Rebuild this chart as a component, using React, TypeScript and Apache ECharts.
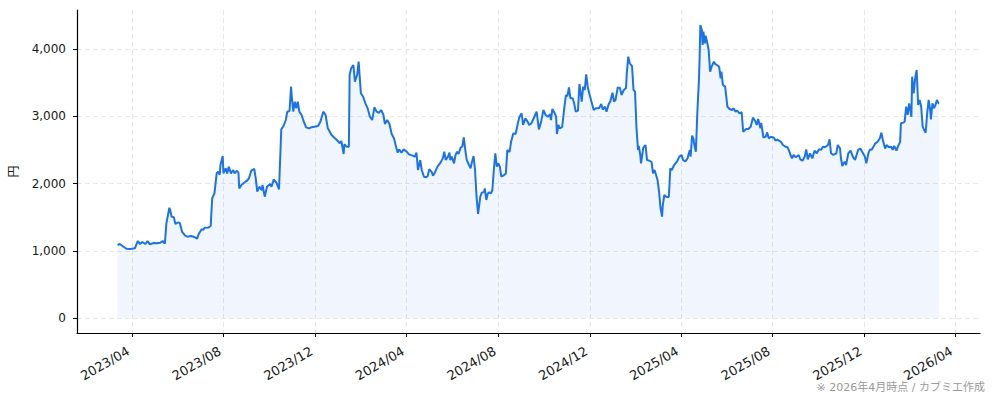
import React, { useEffect, useRef } from "react";
import * as echarts from "echarts";

const dates: string[] = [
  "2023-03-13","2023-03-16","2023-03-21","2023-03-25","2023-03-30","2023-04-05","2023-04-09","2023-04-12","2023-04-15","2023-04-19",
  "2023-04-22","2023-04-25","2023-04-30","2023-05-04","2023-05-09","2023-05-12","2023-05-15","2023-05-17","2023-05-21","2023-05-22",
  "2023-05-24","2023-05-27","2023-05-29","2023-06-02","2023-06-04","2023-06-07","2023-06-11","2023-06-14","2023-06-19","2023-06-24",
  "2023-06-27","2023-06-29","2023-07-03","2023-07-05","2023-07-07","2023-07-12","2023-07-15","2023-07-17","2023-07-20","2023-07-23",
  "2023-07-25","2023-07-27","2023-07-28","2023-07-31","2023-08-01","2023-08-04","2023-08-06","2023-08-08","2023-08-11","2023-08-14",
  "2023-08-16","2023-08-19","2023-08-21","2023-08-22","2023-08-25","2023-08-30","2023-09-01","2023-09-04","2023-09-07","2023-09-11",
  "2023-09-13","2023-09-15","2023-09-18","2023-09-21","2023-09-22","2023-09-25","2023-09-28","2023-10-02","2023-10-04","2023-10-07",
  "2023-10-11","2023-10-14","2023-10-17","2023-10-20","2023-10-23","2023-10-25","2023-10-28","2023-10-30","2023-10-31","2023-11-02",
  "2023-11-04","2023-11-06","2023-11-08","2023-11-10","2023-11-13","2023-11-16","2023-11-19","2023-11-23","2023-11-26","2023-11-30",
  "2023-12-05","2023-12-08","2023-12-12","2023-12-15","2023-12-18","2023-12-23","2023-12-26","2023-12-30","2024-01-03","2024-01-05",
  "2024-01-08","2024-01-09","2024-01-12","2024-01-15","2024-01-16","2024-01-18","2024-01-21","2024-01-23","2024-01-26","2024-01-28",
  "2024-01-31","2024-02-03","2024-02-06","2024-02-09","2024-02-12","2024-02-15","2024-02-18","2024-02-21","2024-02-24","2024-02-27",
  "2024-03-01","2024-03-03","2024-03-06","2024-03-09","2024-03-12","2024-03-15","2024-03-18","2024-03-20","2024-03-22","2024-03-25",
  "2024-03-28","2024-04-01","2024-04-04","2024-04-09","2024-04-12","2024-04-14","2024-04-16","2024-04-19","2024-04-21","2024-04-24",
  "2024-04-27","2024-04-29","2024-05-01","2024-05-04","2024-05-06","2024-05-09","2024-05-12","2024-05-16","2024-05-19","2024-05-21",
  "2024-05-23","2024-05-26","2024-05-28","2024-05-29","2024-05-31","2024-06-03","2024-06-05","2024-06-07","2024-06-09","2024-06-12",
  "2024-06-14","2024-06-16","2024-06-18","2024-06-20","2024-06-23","2024-06-25","2024-06-27","2024-06-29","2024-07-01","2024-07-03",
  "2024-07-05","2024-07-08","2024-07-10","2024-07-13","2024-07-14","2024-07-16","2024-07-18","2024-07-20","2024-07-22","2024-07-24",
  "2024-07-26","2024-07-28","2024-07-30","2024-08-01","2024-08-03","2024-08-05","2024-08-08","2024-08-11","2024-08-13","2024-08-16",
  "2024-08-18","2024-08-21","2024-08-24","2024-08-27","2024-08-29","2024-09-01","2024-09-03","2024-09-06","2024-09-09","2024-09-11",
  "2024-09-14","2024-09-18","2024-09-21","2024-09-24","2024-09-27","2024-09-30","2024-10-03","2024-10-06","2024-10-09","2024-10-10",
  "2024-10-12","2024-10-14","2024-10-17","2024-10-18","2024-10-20","2024-10-22","2024-10-25","2024-10-28","2024-10-30","2024-11-01",
  "2024-11-03","2024-11-05","2024-11-08","2024-11-10","2024-11-12","2024-11-15","2024-11-17","2024-11-20","2024-11-22","2024-11-24",
  "2024-11-26","2024-11-28","2024-11-30","2024-12-03","2024-12-06","2024-12-09","2024-12-13","2024-12-16","2024-12-18","2024-12-21",
  "2024-12-23","2024-12-26","2024-12-28","2024-12-31","2025-01-02","2025-01-04","2025-01-07","2025-01-10","2025-01-12","2025-01-15",
  "2025-01-18","2025-01-19","2025-01-21","2025-01-23","2025-01-26","2025-01-28","2025-01-30","2025-02-01","2025-02-03","2025-02-04",
  "2025-02-06","2025-02-07","2025-02-10","2025-02-13","2025-02-15","2025-02-18","2025-02-21","2025-02-23","2025-02-25","2025-02-27",
  "2025-03-01","2025-03-03","2025-03-05","2025-03-07","2025-03-08","2025-03-10","2025-03-13","2025-03-16","2025-03-18","2025-03-20",
  "2025-03-23","2025-03-27","2025-03-30","2025-04-02","2025-04-04","2025-04-07","2025-04-10","2025-04-11","2025-04-13","2025-04-14",
  "2025-04-16","2025-04-18","2025-04-19","2025-04-21","2025-04-23","2025-04-25","2025-04-26","2025-04-27","2025-04-29","2025-04-30",
  "2025-05-01","2025-05-03","2025-05-04","2025-05-06","2025-05-08","2025-05-10","2025-05-12","2025-05-15","2025-05-17","2025-05-19",
  "2025-05-22","2025-05-24","2025-05-25","2025-05-27","2025-05-30","2025-06-02","2025-06-05","2025-06-08","2025-06-10","2025-06-13",
  "2025-06-15","2025-06-18","2025-06-21","2025-06-23","2025-06-27","2025-06-30","2025-07-03","2025-07-06","2025-07-09","2025-07-11",
  "2025-07-13","2025-07-16","2025-07-17","2025-07-20","2025-07-23","2025-07-25","2025-07-27","2025-07-30","2025-08-03","2025-08-05",
  "2025-08-08","2025-08-12","2025-08-15","2025-08-18","2025-08-21","2025-08-24","2025-08-25","2025-08-27","2025-08-29","2025-09-01",
  "2025-09-05","2025-09-07","2025-09-10","2025-09-13","2025-09-15","2025-09-17","2025-09-20","2025-09-23","2025-09-26","2025-09-29",
  "2025-10-02","2025-10-05","2025-10-07","2025-10-10","2025-10-14","2025-10-16","2025-10-18","2025-10-21","2025-10-25","2025-10-27",
  "2025-10-30","2025-10-31","2025-11-02","2025-11-05","2025-11-07","2025-11-10","2025-11-13","2025-11-16","2025-11-19","2025-11-21",
  "2025-11-23","2025-11-26","2025-11-29","2025-12-02","2025-12-04","2025-12-07","2025-12-09","2025-12-11","2025-12-13","2025-12-16",
  "2025-12-19","2025-12-22","2025-12-24","2025-12-26","2025-12-29","2025-12-31","2026-01-03","2026-01-06","2026-01-08","2026-01-10",
  "2026-01-13","2026-01-15","2026-01-18","2026-01-19","2026-01-22","2026-01-24","2026-01-26","2026-01-28","2026-01-30","2026-02-02",
  "2026-02-03","2026-02-05","2026-02-07","2026-02-09","2026-02-11","2026-02-13","2026-02-15","2026-02-17","2026-02-19","2026-02-21",
  "2026-02-23","2026-02-25","2026-02-27","2026-02-28","2026-03-02","2026-03-04","2026-03-06","2026-03-08","2026-03-10","2026-03-11",
];

const prices: number[] = [
  1085,1100,1060,1030,1026,1036,1145,1100,1130,1100,
  1145,1095,1115,1110,1120,1145,1105,1408,1640,1606,
  1506,1500,1398,1423,1410,1279,1224,1209,1220,1200,
  1180,1249,1319,1310,1343,1345,1368,1780,1854,2152,
  2176,2130,2275,2409,2152,2226,2150,2250,2150,2200,
  2150,2190,2160,1928,1978,2027,2037,2077,2190,2216,
  2077,1878,1953,1900,1978,1804,1953,1993,1953,2062,
  2003,1914,2805,2855,2944,3068,3078,3440,3290,3068,
  3217,3118,3217,3068,3019,2919,2835,2820,2835,2845,
  2855,2919,3068,3019,2820,2721,2687,2647,2598,2632,
  2439,2583,2548,2548,3613,3713,3762,3514,3613,3812,
  3341,3290,3192,3118,2993,2944,3133,3068,3050,3093,
  3019,2885,2944,2885,2736,2672,2538,2458,2508,2458,
  2508,2473,2434,2414,2399,2458,2201,2349,2201,2101,
  2092,2111,2211,2176,2116,2176,2250,2310,2374,2473,
  2349,2399,2458,2349,2399,2300,2424,2473,2439,2538,
  2548,2687,2498,2349,2275,2226,2325,2409,2201,1804,
  1546,1804,1864,1874,1928,1755,1850,1870,1850,1900,
  2201,2449,2250,2300,2250,2101,2120,2150,2498,2470,
  2622,2746,2736,2895,2984,3044,2870,2969,2920,2870,
  2895,2993,3068,2805,2920,3093,3019,2993,3030,2944,
  3108,3068,2993,2736,2870,2820,2840,3142,3316,3300,
  3430,3267,3267,3192,3068,3083,3480,3217,3440,3390,
  3623,3440,3341,3217,3093,3118,3118,3182,3100,3142,
  3068,3182,3217,3351,3217,3240,3430,3420,3316,3390,
  3420,3638,3886,3787,3747,3390,3366,2820,2498,2558,
  2424,2300,2533,2572,2349,2340,2320,2152,2201,2126,
  2052,1878,1631,1507,1680,1829,1800,1800,2226,2201,
  2275,2330,2399,2424,2349,2330,2374,2424,2498,2399,
  2711,2660,2572,2473,3068,3514,3862,4357,4283,4060,
  4258,4085,4198,4100,3985,3663,3737,3812,3775,3762,
  3737,3564,3663,3465,3440,3142,3108,3093,3118,3068,
  3083,3044,3060,2770,2810,2810,2845,2979,2930,2870,
  2960,2820,2900,2681,2696,2760,2672,2696,2681,2640,
  2650,2622,2572,2550,2540,2463,2424,2374,2424,2390,
  2424,2360,2340,2400,2508,2360,2449,2374,2488,2449,
  2508,2500,2548,2540,2572,2657,2449,2424,2449,2572,
  2520,2390,2260,2325,2275,2449,2488,2400,2350,2424,
  2500,2520,2460,2400,2300,2460,2508,2500,2540,2597,
  2620,2672,2756,2647,2520,2572,2540,2548,2500,2560,
  2490,2548,2620,2895,2905,2920,3142,3020,3192,2993,
  3589,3341,3565,3688,3167,3242,3142,2845,2795,2756,
  3044,3242,3093,2954,3192,3118,3167,3242,3192,3192,
];

const xTickDates: string[] = [
  "2023-04-01","2023-08-01","2023-12-01","2024-04-01","2024-08-01",
  "2024-12-01","2025-04-01","2025-08-01","2025-12-01","2026-04-01",
];
const yTicks: number[] = [0, 1000, 2000, 3000, 4000];

const FONT = "'DejaVu Sans', 'Noto Sans CJK JP', sans-serif";

function parseDate(s: string): number {
  const [datePart, timePart] = s.split(" ");
  const [y, m, d] = datePart.split("-").map(Number);
  let hh = 0;
  if (timePart) hh = Number(timePart.split(":")[0]);
  return Date.UTC(y, m - 1, d, hh);
}

export default function App() {
  const ref = useRef<HTMLDivElement>(null);

  useEffect(() => {
    if (!ref.current) return;
    const chart = echarts.init(ref.current, undefined, { renderer: "svg" });
    const data = dates.map((d, i) => [parseDate(d), prices[i]]);
    const xTicks = xTickDates.map(parseDate);
    const pad = (n: number) => (n < 10 ? "0" + n : "" + n);
    const grid = { color: "#e2e2e2", type: [5, 3], width: 0.8 };

    chart.setOption({
      animation: false,
      backgroundColor: "#ffffff",
      textStyle: { fontFamily: FONT },
      grid: { left: 75, right: 14, top: 10, bottom: 68, containLabel: false },
      xAxis: {
        type: "value",
        min: parseDate("2023-01-18"),
        max: parseDate("2026-05-04 08:00"),
        scale: true,
        axisLine: { onZero: false, lineStyle: { color: "#000", width: 1.2 } },
        axisTick: {
          show: true,
          length: 4,
          customValues: xTicks,
          lineStyle: { color: "#000", width: 1 },
        },
        axisLabel: {
          customValues: xTicks,
          rotate: 30,
          margin: 15,
          padding: [0, 4, 0, 0],
          fontSize: 13,
          color: "#1a1a1a",
          fontFamily: FONT,
          formatter: (v: number) => {
            const d = new Date(v);
            return d.getUTCFullYear() + "/" + pad(d.getUTCMonth() + 1);
          },
        },
        splitLine: { show: true, lineStyle: grid },
      },
      yAxis: {
        type: "value",
        min: -223,
        max: 4580,
        name: "円",
        nameLocation: "middle",
        nameRotate: 90,
        nameGap: 57,
        nameTextStyle: { fontSize: 12, color: "#1a1a1a", fontFamily: FONT },
        axisLine: { show: true, lineStyle: { color: "#000", width: 1.2 } },
        axisTick: {
          show: true,
          length: 4,
          customValues: yTicks,
          lineStyle: { color: "#000", width: 1 },
        },
        axisLabel: {
          customValues: yTicks,
          margin: 11,
          fontSize: 12,
          color: "#1a1a1a",
          fontFamily: FONT,
          formatter: (v: number) => v.toLocaleString("en-US"),
        },
        splitLine: { show: true, lineStyle: grid },
      },
      series: [
        {
          type: "line",
          data,
          symbol: "none",
          showSymbol: false,
          lineStyle: { color: "#1a73e8", width: 2 },
          itemStyle: { color: "#1a73e8" },
          areaStyle: { color: "rgba(26,115,232,0.09)", origin: "auto" },
          z: 3,
        },
      ],
      graphic: [
        {
          type: "text",
          right: 9,
          bottom: 8,
          style: {
            text: "※ 2026年4月時点 / カブミエ作成",
            fontSize: 11,
            fill: "#999",
            fontFamily: FONT,
          },
        },
      ],
    });

    return () => chart.dispose();
  }, []);

  return (
    <div
      ref={ref}
      style={{ position: "fixed", left: 0, top: 0, width: 994, height: 401 }}
    />
  );
}
